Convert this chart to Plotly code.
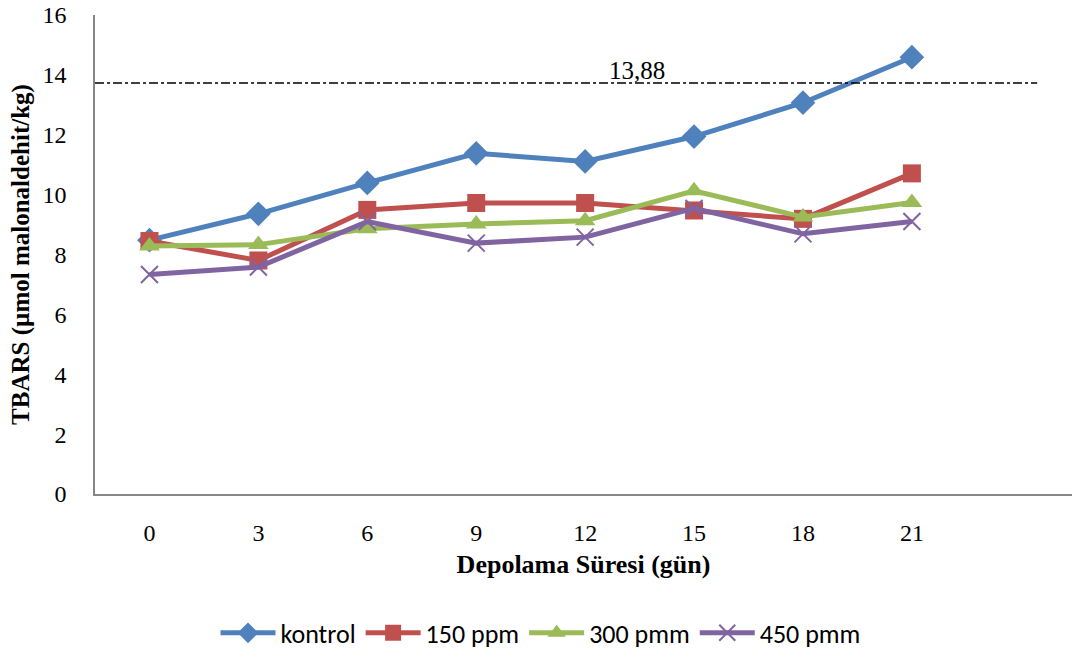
import plotly.graph_objects as go

days = ["0", "3", "6", "9", "12", "15", "18", "21"]
kontrol = [8.48, 9.36, 10.39, 11.38, 11.11, 11.94, 13.07, 14.59]
ppm150 = [8.45, 7.80, 9.49, 9.72, 9.72, 9.47, 9.19, 10.71]
ppm300 = [8.28, 8.33, 8.86, 9.02, 9.13, 10.13, 9.25, 9.74]
ppm450 = [7.33, 7.58, 9.10, 8.38, 8.58, 9.54, 8.69, 9.10]
series_names = ["kontrol", "150 ppm", "300 pmm", "450 pmm"]
limit_value = 13.73
limit_label = "13,88"
y_ticks = [0, 2, 4, 6, 8, 10, 12, 14, 16]

xs = list(range(len(days)))
colors = ["#4F81BD", "#C0504D", "#9BBB59", "#8064A2"]
symbols = ["diamond", "square", "triangle-up", "x-thin-open"]
sizes = [19, 18, 18, 17]

fig = go.Figure()
for name, vals, c, s, sz in zip(series_names, [kontrol, ppm150, ppm300, ppm450], colors, symbols, sizes):
    marker = dict(symbol=s, size=sz, color=c)
    if s == "x-thin-open":
        marker["line"] = dict(color=c, width=2)
    fig.add_trace(go.Scatter(x=xs, y=vals, name=name, mode="lines+markers",
                             line=dict(color=c, width=5), marker=marker))

serif = "Liberation Serif"
fig.add_shape(type="line", xref="x", yref="y", x0=-0.5, x1=8.15, y0=limit_value, y1=limit_value,
              line=dict(color="black", width=1.5, dash="dashdot"))
fig.add_annotation(x=4.48, y=limit_value, xref="x", yref="y", text=limit_label, showarrow=False,
                   yanchor="bottom", yshift=-3,
                   font=dict(family=serif, size=25, color="black"))

fig.update_layout(
    width=1072, height=657,
    margin=dict(l=95, r=0, t=15, b=160),
    paper_bgcolor="white", plot_bgcolor="white",
    showlegend=True,
    legend=dict(orientation="h", x=0.456, xanchor="center", y=-0.29, yanchor="middle",
                font=dict(family="Carlito, Lato", size=26, color="black"),
                itemwidth=55, tracegroupgap=0),
    xaxis=dict(range=[-0.5, 8.47], tickvals=xs, ticktext=days, showgrid=False, zeroline=False,
               showline=True, linecolor="#868686", linewidth=1.5, ticks="", ticklabelstandoff=16,
               tickfont=dict(family=serif, size=24, color="black"),
               title=dict(text="<b>Depolama Süresi (gün)</b>", standoff=10,
                          font=dict(family=serif, size=26, color="black"))),
    yaxis=dict(range=[0, 16], tickvals=y_ticks, showgrid=False, zeroline=False,
               showline=True, linecolor="#868686", linewidth=1.5, ticks="", ticklabelstandoff=22,
               tickfont=dict(family=serif, size=24, color="black"),
               title=dict(text="<b>TBARS (µmol malonaldehit/kg)</b>", standoff=6,
                          font=dict(family=serif, size=25, color="black"))),
)

fig.write_html("out.html")
